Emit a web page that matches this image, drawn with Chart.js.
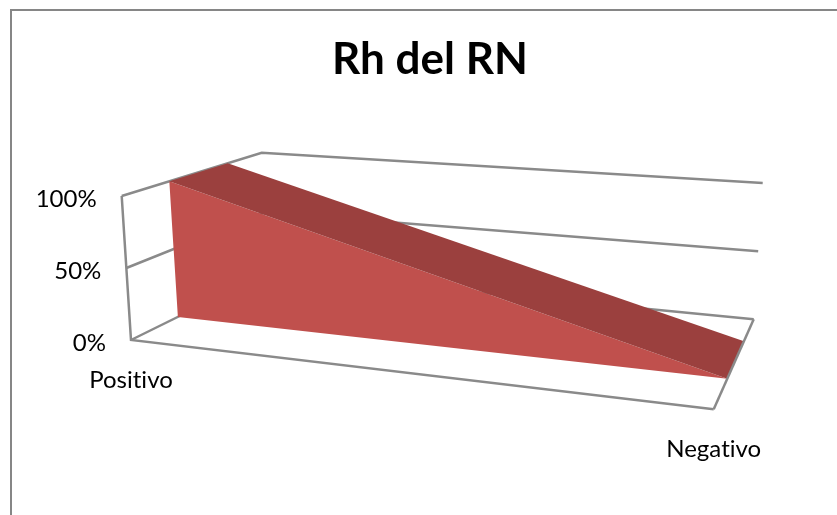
<!DOCTYPE html>
<html>
<head>
<meta charset="utf-8">
<title>Rh del RN</title>
<script src="https://cdn.jsdelivr.net/npm/chart.js@4"></script>
<style>
    html, body { margin: 0; height: 100%; background: #fff; overflow: hidden; }
    #frame {
        position: absolute; left: 10px; top: 9px;
        width: 836px; height: 504px;
        border: 2px solid #868686; background: #fff;
    }
    #chart { display: block; }
</style>
</head>
<body>
<div id="frame"><canvas id="chart" width="836" height="504"></canvas></div>
<script>
const categories = ["Positivo", "Negativo"];
const seriesValues = [100, 0];
const tickValues = [0, 50, 100];

const AXIS_COLOR = "#8a8a8a";
const FRONT_COLOR = "#c0504d";
const TOP_COLOR = "#9b403e";
const LABEL_FONT = '24px Lato, "Open Sans", sans-serif';

// Page position of the canvas, used so the hidden scales run in page pixels
const CANVAS_LEFT = 12, CANVAS_TOP = 11, TITLE_BLOCK = 90;

// Corners of the 3D plot box: box[cat][value][depth]
const box = [
    [[[131, 340], [269, 272]], [[121.7, 196], [261.7, 152.7]]],
    [[[713.7, 409.3], [753.7, 319.3]], [[704, 244], [762.7, 183]]]
];
// The area band sits between these two depths of the box
const bandFront = 0.34, bandBack = 0.757;

function mix(a, b, t) {
    return [a[0] + (b[0] - a[0]) * t, a[1] + (b[1] - a[1]) * t];
}

// Project (category index, percent, depth 0..1) to a point on the hidden scales
function project(cat, value, depth) {
    const c = cat / (categories.length - 1), v = value / 100;
    const low = mix(mix(box[0][0][0], box[0][0][1], depth), mix(box[1][0][0], box[1][0][1], depth), c);
    const high = mix(mix(box[0][1][0], box[0][1][1], depth), mix(box[1][1][0], box[1][1][1], depth), c);
    const p = mix(low, high, v);
    return { x: p[0], y: p[1] };
}

function lineSet(points, order) {
    return {
        data: points, showLine: true, fill: false, pointRadius: 0,
        borderColor: AXIS_COLOR, borderWidth: 2.5, order: order, clip: false
    };
}

function faceSet(points, color, order) {
    return {
        data: points, showLine: true, fill: "shape", backgroundColor: color,
        borderWidth: 0, pointRadius: 0, order: order, clip: false
    };
}

const last = categories.length - 1;
const datasets = [];

// Gridlines on the back and left walls
tickValues.forEach(t => {
    datasets.push(lineSet([project(0, t, 0), project(0, t, 1), project(last, t, 1)], 5));
});
// Value axis and the front and right edges of the floor
datasets.push(lineSet([project(0, 100, 0), project(0, 0, 0), project(last, 0, 0)], 5));

// Front face of the area, from the baseline up to the series values
const frontFace = seriesValues.map((v, i) => project(i, v, bandFront));
for (let i = last; i >= 0; i--) frontFace.push(project(i, 0, bandFront));
datasets.push(faceSet(frontFace, FRONT_COLOR, 3));

// Top face, running from the front of the band to its back
const topFace = seriesValues.map((v, i) => project(i, v, bandFront));
for (let i = last; i >= 0; i--) topFace.push(project(i, seriesValues[i], bandBack));
datasets.push(faceSet(topFace, TOP_COLOR, 2));

// The right floor edge stays on top of the area
datasets.push(lineSet([project(last, 0, 0), project(last, 0, 1)], 1));

// Tick and category labels follow the projected axis
const axisLabels = {
    id: "axisLabels",
    afterDraw(chart) {
        const { ctx, scales } = chart;
        const px = p => scales.x.getPixelForValue(p.x);
        const py = p => scales.y.getPixelForValue(p.y);
        ctx.save();
        ctx.font = LABEL_FONT;
        ctx.letterSpacing = "0.01px"; // keeps the "ti" from joining into a ligature
        ctx.fillStyle = "#000";
        ctx.textBaseline = "middle";
        ctx.textAlign = "right";
        tickValues.forEach(t => {
            const p = project(0, t, 0);
            ctx.fillText(t + "%", px(p) - 25, py(p) + 3);
        });
        ctx.textAlign = "center";
        categories.forEach((name, i) => {
            const p = project(i, 0, 0);
            ctx.fillText(name, px(p), py(p) + 40);
        });
        ctx.restore();
    }
};

new Chart(document.getElementById("chart"), {
    type: "scatter",
    data: { datasets: datasets },
    plugins: [axisLabels],
    options: {
        responsive: false,
        animation: false,
        layout: { padding: 0 },
        plugins: {
            legend: { display: false },
            tooltip: { enabled: false },
            title: {
                display: true,
                text: "Rh del RN",
                color: "#000",
                font: { family: "Lato, 'Open Sans', sans-serif", size: 44, weight: "bold", lineHeight: 1 },
                padding: { top: 27, bottom: 19 }
            }
        },
        scales: {
            x: { type: "linear", display: false, min: CANVAS_LEFT, max: CANVAS_LEFT + 836 },
            y: { type: "linear", display: false, reverse: true, min: CANVAS_TOP + TITLE_BLOCK, max: CANVAS_TOP + 504 }
        }
    }
});
</script>
</body>
</html>
